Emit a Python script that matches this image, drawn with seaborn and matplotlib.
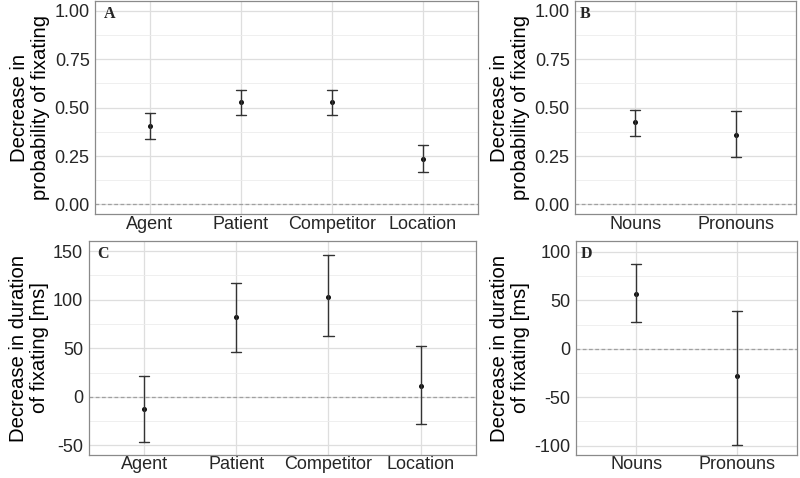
import matplotlib
matplotlib.use("Agg")
import matplotlib.pyplot as plt
import numpy as np
import pandas as pd
import seaborn as sns
from matplotlib.ticker import MultipleLocator

# data: point estimate with lower / upper interval per category
roles = ["Agent", "Patient", "Competitor", "Location"]
forms = ["Nouns", "Pronouns"]

prob_roles_mid = [0.407, 0.528, 0.528, 0.236]
prob_roles_lo = [0.336, 0.464, 0.460, 0.166]
prob_roles_hi = [0.474, 0.590, 0.588, 0.305]

prob_forms_mid = [0.424, 0.359]
prob_forms_lo = [0.352, 0.245]
prob_forms_hi = [0.489, 0.481]

dur_roles_mid = [-12.9, 82.0, 103.2, 11.1]
dur_roles_lo = [-46.9, 46.5, 62.4, -28.4]
dur_roles_hi = [21.1, 117.0, 145.9, 52.4]

dur_forms_mid = [56.8, -27.8]
dur_forms_lo = [27.5, -98.9]
dur_forms_hi = [87.2, 38.9]

prob_ticks = [0.00, 0.25, 0.50, 0.75, 1.00]
prob_ticklabels = ["0.00", "0.25", "0.50", "0.75", "1.00"]
dur_roles_ticks = [-50, 0, 50, 100, 150]
dur_forms_ticks = [-100, -50, 0, 50, 100]

prob_label = "Decrease in\nprobability of fixating"
dur_label = "Decrease in duration\nof fixating [ms]"


def long_table(cats, lo, mid, hi):
    # three rows per category: median = estimate, min/max = interval
    rows = []
    for c, a, m, b in zip(cats, lo, mid, hi):
        for v in (a, m, b):
            rows.append({"cat": c, "val": v})
    return pd.DataFrame(rows)


sns.set_style("white")
plt.rcParams["font.family"] = ["Liberation Sans", "DejaVu Sans"]

fig = plt.figure(figsize=(8, 4.78), dpi=100, facecolor="white")

panels = [
    ("A", [0.119, 0.552, 0.478, 0.446], roles, prob_roles_lo, prob_roles_mid, prob_roles_hi,
     (-0.05, 1.05), prob_ticks, prob_ticklabels, 0.125, prob_label, 0.11),
    ("B", [0.719, 0.552, 0.276, 0.446], forms, prob_forms_lo, prob_forms_mid, prob_forms_hi,
     (-0.05, 1.05), prob_ticks, prob_ticklabels, 0.125, prob_label, 0.10),
    ("C", [0.111, 0.048, 0.484, 0.448], roles, dur_roles_lo, dur_roles_mid, dur_roles_hi,
     (-60.0, 160.6), dur_roles_ticks, [str(t) for t in dur_roles_ticks], 25, dur_label, 0.11),
    ("D", [0.720, 0.048, 0.276, 0.448], forms, dur_forms_lo, dur_forms_mid, dur_forms_hi,
     (-109.7, 111.4), dur_forms_ticks, [str(t) for t in dur_forms_ticks], 25, dur_label, 0.10),
]

for letter, rect, cats, lo, mid, hi, ylim, yt, ytl, minor, ylab, cap in panels:
    ax = fig.add_axes(rect)
    df = long_table(cats, lo, mid, hi)

    ax.axhline(0, color="#a0a0a0", lw=0.9, ls=(0, (3, 2)), zorder=1)

    sns.pointplot(
        data=df, x="cat", y="val", order=cats,
        estimator=np.median, errorbar=lambda v: (v.min(), v.max()),
        linestyle="none", color="#111111", markersize=1.6,
        err_kws={"linewidth": 1.0, "color": "#333333"},
        capsize=cap, ax=ax, zorder=3,
    )

    ax.set_xlim(-0.6, len(cats) - 0.4)
    ax.set_ylim(*ylim)
    ax.set_yticks(yt)
    ax.set_yticklabels(ytl)
    ax.yaxis.set_minor_locator(MultipleLocator(minor))

    ax.grid(True, which="major", color="#dedede", lw=0.9, zorder=0)
    ax.grid(True, which="minor", axis="y", color="#ececec", lw=0.6, zorder=0)
    ax.set_axisbelow(True)

    for s in ax.spines.values():
        s.set_visible(True)
        s.set_color("#8a8a8a")
        s.set_linewidth(0.9)

    ax.tick_params(axis="both", which="major", length=2.5, width=0.8, color="#8a8a8a",
                   labelsize=13, labelcolor="#262626")
    ax.tick_params(axis="y", which="major", pad=1.5)
    ax.tick_params(axis="x", which="major", pad=-1.5)
    ax.tick_params(axis="y", which="minor", length=0)
    ax.set_xlabel("")
    ax.set_ylabel(ylab, fontsize=14.6, color="black", labelpad=3, linespacing=1.12)

    ax.text(0.022, 0.975, letter, transform=ax.transAxes, ha="left", va="top",
            fontsize=11.5, fontweight="bold", family=["Liberation Serif", "DejaVu Serif"])

fig.savefig("out.png", dpi=100, facecolor="white")
